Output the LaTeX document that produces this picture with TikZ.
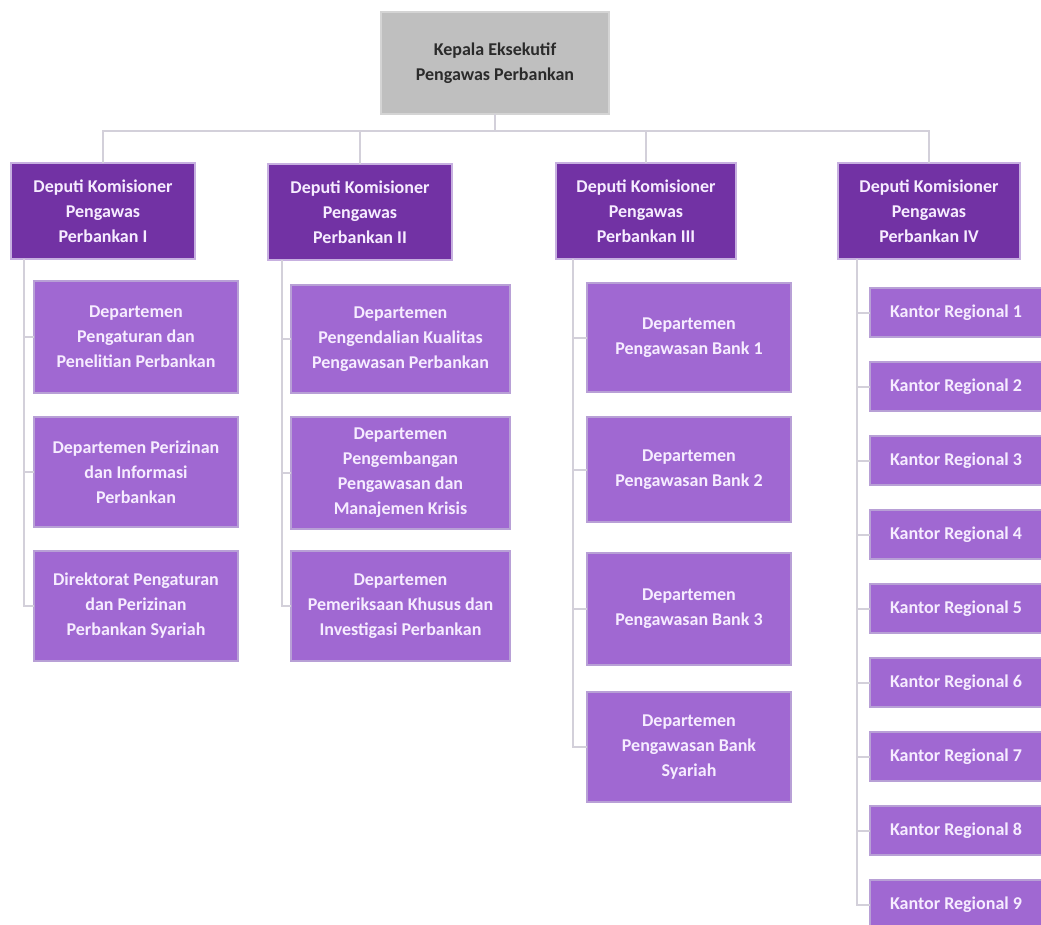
\documentclass[tikz,border=0pt]{standalone}
\usepackage{fontspec}
\setmainfont{Carlito}
\definecolor{topfill}{HTML}{BFBFBF}
\definecolor{topline}{HTML}{D4D4D4}
\definecolor{toptext}{HTML}{2B2B2B}
\definecolor{depfill}{HTML}{7232A4}
\definecolor{depline}{HTML}{C7B0E0}
\definecolor{unitfill}{HTML}{A068D2}
\definecolor{unitline}{HTML}{B8A0D6}
\definecolor{boxtext}{HTML}{F6ECFF}
\definecolor{wire}{HTML}{D3D0DA}
\tikzset{
  every node/.style={inner sep=0pt, outer sep=0pt},
  headbox/.style={rectangle, fill=topfill, draw=topline, line width=1.5pt,
    text=toptext, align=center, font=\bfseries\fontsize{18}{25}\selectfont},
  depbox/.style={rectangle, fill=depfill, draw=depline, line width=1.5pt,
    text=boxtext, align=center, font=\bfseries\fontsize{18}{25}\selectfont},
  unitbox/.style={rectangle, fill=unitfill, draw=unitline, line width=1.5pt,
    text=boxtext, align=center, font=\bfseries\fontsize{18}{25}\selectfont},
  link/.style={draw=wire, line width=2pt}
}
\begin{document}
\begin{tikzpicture}[x=1pt, y=-1pt]
\useasboundingbox (0,0) rectangle (1041,924);
\clip (0,0) rectangle (1041,924);
\fill[white] (0,0) rectangle (1041,924);

% head of the supervision
\node[headbox, minimum width=228pt, minimum height=102pt] (head) at (495,63)
  {Kepala Eksekutif\\Pengawas Perbankan};

% deputy commissioners
\node[depbox, minimum width=184pt, minimum height=96pt] (d1) at (103,211)
  {Deputi Komisioner\\Pengawas\\Perbankan I};
\node[depbox, minimum width=184pt, minimum height=96pt] (d2) at (360,212)
  {Deputi Komisioner\\Pengawas\\Perbankan II};
\node[depbox, minimum width=180pt, minimum height=96pt] (d3) at (646,211)
  {Deputi Komisioner\\Pengawas\\Perbankan III};
\node[depbox, minimum width=182pt, minimum height=96pt] (d4) at (929,211)
  {Deputi Komisioner\\Pengawas\\Perbankan IV};

% units under deputy I
\node[unitbox, minimum width=204pt, minimum height=112pt] (a1) at (136,337)
  {Departemen\\Pengaturan dan\\Penelitian Perbankan};
\node[unitbox, minimum width=204pt, minimum height=110pt] (a2) at (136,472)
  {Departemen Perizinan\\dan Informasi\\Perbankan};
\node[unitbox, minimum width=204pt, minimum height=110pt] (a3) at (136,606)
  {Direktorat Pengaturan\\dan Perizinan\\Perbankan Syariah};

% units under deputy II
\node[unitbox, minimum width=219pt, minimum height=108pt] (b1) at (400.5,339)
  {Departemen\\Pengendalian Kualitas\\Pengawasan Perbankan};
\node[unitbox, minimum width=219pt, minimum height=112pt] (b2) at (400.5,473)
  {Departemen\\Pengembangan\\Pengawasan dan\\Manajemen Krisis};
\node[unitbox, minimum width=219pt, minimum height=110pt] (b3) at (400.5,606)
  {Departemen\\Pemeriksaan Khusus dan\\Investigasi Perbankan};

% units under deputy III
\node[unitbox, minimum width=204pt, minimum height=109pt] (c1) at (689,337.5)
  {Departemen\\Pengawasan Bank 1};
\node[unitbox, minimum width=204pt, minimum height=105pt] (c2) at (689,469.5)
  {Departemen\\Pengawasan Bank 2};
\node[unitbox, minimum width=204pt, minimum height=112pt] (c3) at (689,609)
  {Departemen\\Pengawasan Bank 3};
\node[unitbox, minimum width=204pt, minimum height=110pt] (c4) at (689,747)
  {Departemen\\Pengawasan Bank\\Syariah};

% regional offices under deputy IV
\foreach \i in {1,...,9} {
  \node[unitbox, minimum width=172pt, minimum height=49pt] (r\i)
    at (956,{312.5+74*(\i-1)}) {Kantor Regional \i};
}

% head to deputies
\coordinate (bus) at (495,131);
\draw[link] (head.south) -- (bus);
\draw[link] (bus) -| (d1.north);
\draw[link] (bus) -| (d2.north);
\draw[link] (bus) -| (d3.north);
\draw[link] (bus) -| (d4.north);

% spines from each deputy down to its units
\coordinate (s1) at (24,259);
\coordinate (s2) at (282,260);
\coordinate (s3) at (573,259);
\coordinate (s4) at (857,259);
\foreach \u in {a1,a2,a3} \draw[link] (s1) |- (\u.west);
\foreach \u in {b1,b2,b3} \draw[link] (s2) |- (\u.west);
\foreach \u in {c1,c2,c3,c4} \draw[link] (s3) |- (\u.west);
\foreach \i in {1,...,9} \draw[link] (s4) |- (r\i.west);
\end{tikzpicture}
\end{document}
